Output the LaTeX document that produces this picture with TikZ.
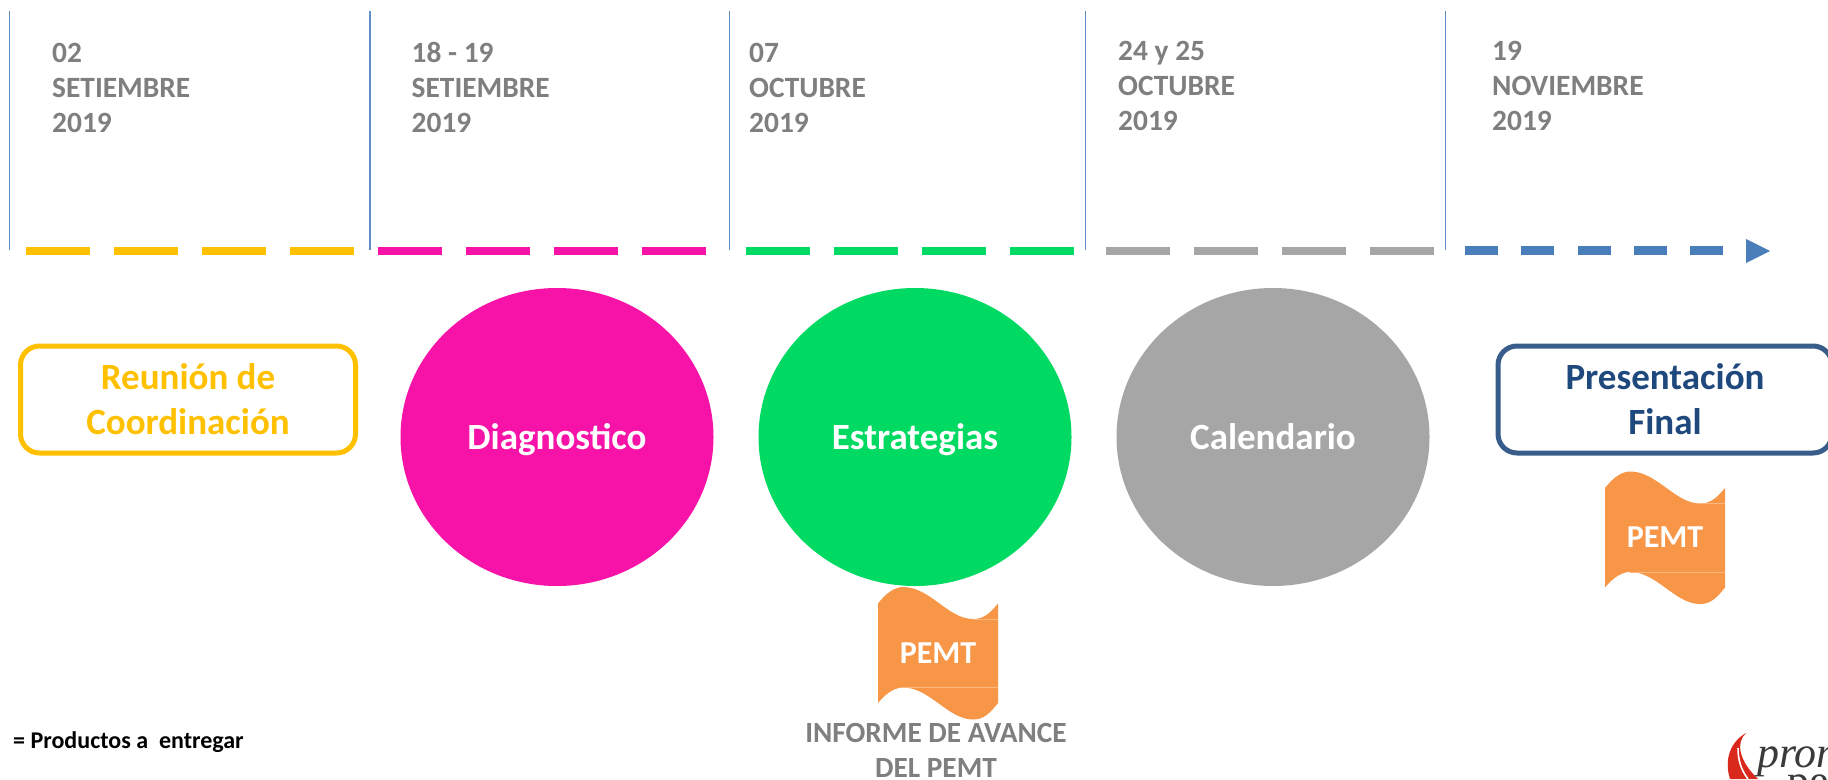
\documentclass[tikz,border=0pt]{standalone}
\usepackage{fontspec}
\setmainfont{Carlito}[BoldFont={Carlito Bold}]
\newfontfamily\logofont{Liberation Serif}
\usetikzlibrary{shapes.geometric}
\definecolor{cyellow}{HTML}{FFC000}
\definecolor{cpink}{HTML}{F813A8}
\definecolor{cgreen}{HTML}{00DA63}
\definecolor{cgray}{HTML}{A6A6A6}
\definecolor{cblue}{HTML}{4A7EBB}
\definecolor{cnavy}{HTML}{1F497D}
\definecolor{cboxblue}{HTML}{385D8A}
\definecolor{corange}{HTML}{F79646}
\definecolor{cfold}{HTML}{FBB77F}
\definecolor{ctext}{HTML}{7F7F7F}
\definecolor{clogored}{HTML}{D9281C}
\definecolor{clogotext}{HTML}{3A3A3A}
\newcommand{\sz}[2]{\fontsize{#1}{#2}\selectfont}
\newcommand{\firstline}{\rule{0pt}{22pt}}
\tikzset{
  x=1pt,y=-1pt,
  sepline/.style={draw=cblue!88!white,line width=1.9pt},
  datetxt/.style={anchor=north west,inner sep=0pt,align=left,text=ctext,font=\sz{29.4}{35}\bfseries},
  dashline/.style={line width=8pt,dash pattern=on 64pt off 24pt},
  bluedash/.style={line width=9pt,draw=cblue,dash pattern=on 33pt off 23.3pt},
  roundbox/.style={rounded corners=19pt,line width=5pt,inner sep=0pt,minimum width=335pt,minimum height=107pt,align=center,font=\sz{37}{45}\bfseries},
  bubble/.style={ellipse,inner sep=0pt,minimum width=313pt,minimum height=298pt,text=white,text height=30pt,text depth=6pt,font=\sz{37}{40}\bfseries},
  pemttxt/.style={inner sep=0pt,text=white,font=\sz{32}{35}\bfseries},
  graytxt/.style={inner sep=0pt,align=center,text=ctext,font=\sz{29.3}{35}\bfseries},
  foldline/.style={draw=cfold,line width=.7pt}
}
\newcommand{\wavepath}[2]{%
  \fill[corange,shift={(#1,#2)}] (0,16.5) .. controls (8,6) and (17,0) .. (25,0)
    .. controls (52,0) and (70,32) .. (95,32) .. controls (106,32) and (112,26) .. (120,16.5)
    -- (120,116) .. controls (112,126) and (106,132.5) .. (95,132.5)
    .. controls (70,132.5) and (52,100.5) .. (25,100.5) .. controls (17,100.5) and (8,106) .. (0,116) -- cycle;
  \draw[foldline,shift={(#1,#2)}] (95,32) -- (120,32);
  \draw[foldline,shift={(#1,#2)}] (25,100.5) -- (120,100.5);
}
\begin{document}
\begin{tikzpicture}
\useasboundingbox (0,0) rectangle (1828,779);
\clip (0,0) rectangle (1828,779);
\fill[white] (0,0) rectangle (1828,779);
% vertical separators
\coordinate (s1t) at (9.5,11);   \coordinate (s1b) at (9.5,250);
\coordinate (s2t) at (370,11);   \coordinate (s2b) at (370,250);
\coordinate (s3t) at (729.5,11); \coordinate (s3b) at (729.5,250);
\coordinate (s4t) at (1085.5,11);\coordinate (s4b) at (1085.5,250);
\coordinate (s5t) at (1445.5,11);\coordinate (s5b) at (1445.5,250);
\foreach \k in {1,...,5} \draw[sepline] (s\k t) -- (s\k b);
% dated labels
\node[datetxt] (d1) at (52,40) {\firstline 02\\SETIEMBRE\\2019};
\node[datetxt] (d2) at (411.5,40) {\firstline 18 - 19\\SETIEMBRE\\2019};
\node[datetxt] (d3) at (749,40) {\firstline 07\\OCTUBRE\\2019};
\node[datetxt] (d4) at (1118,38) {\firstline 24 y 25\\OCTUBRE\\2019};
\node[datetxt] (d5) at (1492,38) {\firstline 19\\NOVIEMBRE\\2019};
% timeline
\coordinate (a1) at (26,251);   \coordinate (a2) at (354,251);
\coordinate (b1) at (378,251);  \coordinate (b2) at (706,251);
\coordinate (c1) at (746,251);  \coordinate (c2) at (1074,251);
\coordinate (e1) at (1106,251); \coordinate (e2) at (1434,251);
\coordinate (f1) at (1465,250.5); \coordinate (f2) at (1723,250.5);
\draw[dashline,draw=cyellow] (a1) -- (a2);
\draw[dashline,draw=cpink] (b1) -- (b2);
\draw[dashline,draw=cgreen] (c1) -- (c2);
\draw[dashline,draw=cgray] (e1) -- (e2);
\draw[bluedash] (f1) -- (f2);
\coordinate (tipa) at (1746,239);\coordinate (tipb) at (1770,251);\coordinate (tipc) at (1746,263);
\fill[cblue] (tipa) -- (tipb) -- (tipc) -- cycle;
% main shapes
\node[roundbox,draw=cyellow,text=cyellow,minimum width=335pt] (reunion) at (188,399.5) {Reunión de\\Coordinación};
\node[bubble,fill=cpink] (diag) at (557,437) {Diagnostico};
\node[bubble,fill=cgreen] (estr) at (915,437) {Estrategias};
\node[bubble,fill=cgray] (cal) at (1273,437) {Calendario};
\node[roundbox,draw=cboxblue,text=cnavy,minimum width=334pt] (pres) at (1665,399.5) {Presentación\\Final};
% documents
\wavepath{878}{587}
\node[pemttxt] (p1) at (938,653) {PEMT};
\wavepath{1605}{471.5}
\node[pemttxt] (p2) at (1665,537) {PEMT};
\node[graytxt] (inf) at (936,750) {INFORME DE AVANCE\\DEL PEMT};
\node[inner sep=0pt,anchor=west,text=black,font=\sz{24}{28}\bfseries] (leg) at (13,742) {= Productos a~~entregar};
% logo fragment
\fill[clogored] (1746,733) .. controls (1730,742) and (1724,760) .. (1730,779)
  -- (1758,779) .. controls (1738,760) and (1736,742) .. (1746,733) -- cycle;
\draw[white,line width=1.6pt] (1738,748) .. controls (1738,760) and (1741,770) .. (1748,779);
\node[inner sep=0pt,anchor=base west,text=clogotext,font=\logofont\itshape\sz{44}{44}] (lg1) at (1757,767) {prom};
\node[inner sep=0pt,anchor=base west,text=clogotext,font=\logofont\sz{44}{44}] (lg2) at (1787,795) {pe};
\end{tikzpicture}
\end{document}
